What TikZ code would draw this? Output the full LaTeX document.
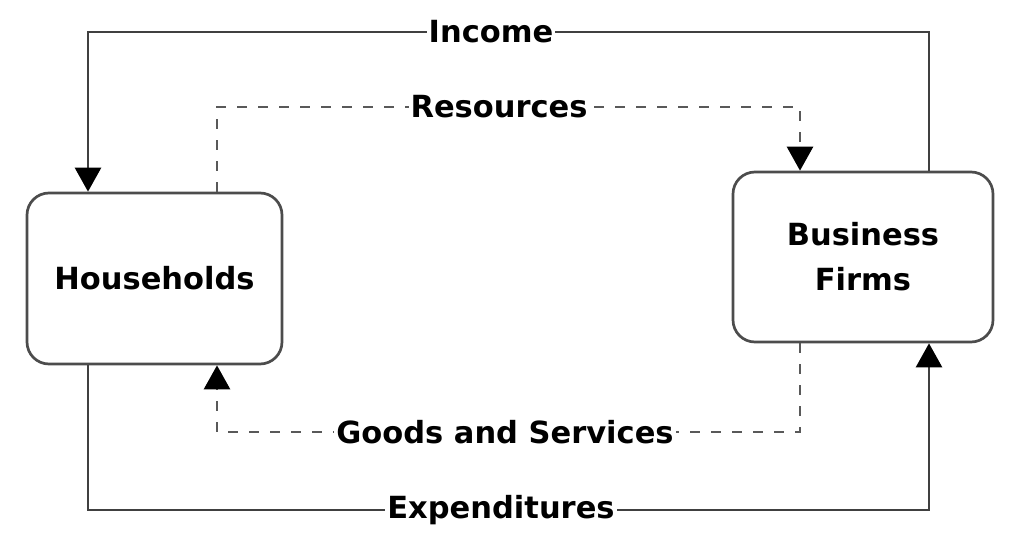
\documentclass[tikz,border=0pt]{standalone}
\usepackage{fontspec}
\setmainfont{DejaVu Sans}
\usetikzlibrary{arrows.meta}
\begin{document}
\begin{tikzpicture}[x=1pt,y=-1pt,
  every node/.style={font=\fontsize{30.5}{45}\selectfont\bfseries},
  agent/.style={draw=black!70, line width=2.7pt, rounded corners=22pt, fill=white,
    inner sep=0pt, align=center},
  money/.style={draw=black!75, line width=2.7pt, -{Triangle[width=26pt,length=24pt,color=black]}},
  goods/.style={draw=black!65, line width=2.7pt, dash pattern=on 10pt off 11pt,
    -{Triangle[width=26pt,length=24pt,color=black]}},
  lbl/.style={fill=white, inner xsep=2pt, inner ysep=1pt}]
\useasboundingbox (0,0) rectangle (1009,549);
\node[agent, minimum width=255pt, minimum height=171pt] (hh) at (154.5,278.5) {Households};
\node[agent, minimum width=260pt, minimum height=170pt] (bf) at (863,257) {Business\\Firms};
\coordinate (i1) at (929,32);
\coordinate (i2) at (88,32);
\coordinate (r1) at (217,107);
\coordinate (r2) at (800,107);
\coordinate (g1) at (800,432);
\coordinate (g2) at (217,432);
\coordinate (e1) at (88,510);
\coordinate (e2) at (929,510);
\draw[money] (bf.north -| i1) -- (i1) -- (i2) -- (hh.north -| i2);
\draw[goods] (hh.north -| r1) -- (r1) -- (r2) -- (bf.north -| r2);
\draw[goods] (bf.south -| g1) -- (g1) -- (g2) -- (hh.south -| g2);
\draw[money] (hh.south -| e1) -- (e1) -- (e2) -- (bf.south -| e2);
\node[lbl] (inc) at (491,32) {Income};
\node[lbl] (res) at (499,107) {Resources};
\node[lbl] (gs) at (505,432) {Goods and Services};
\node[lbl] (exp) at (501,510) {Expenditures};
\end{tikzpicture}
\end{document}
